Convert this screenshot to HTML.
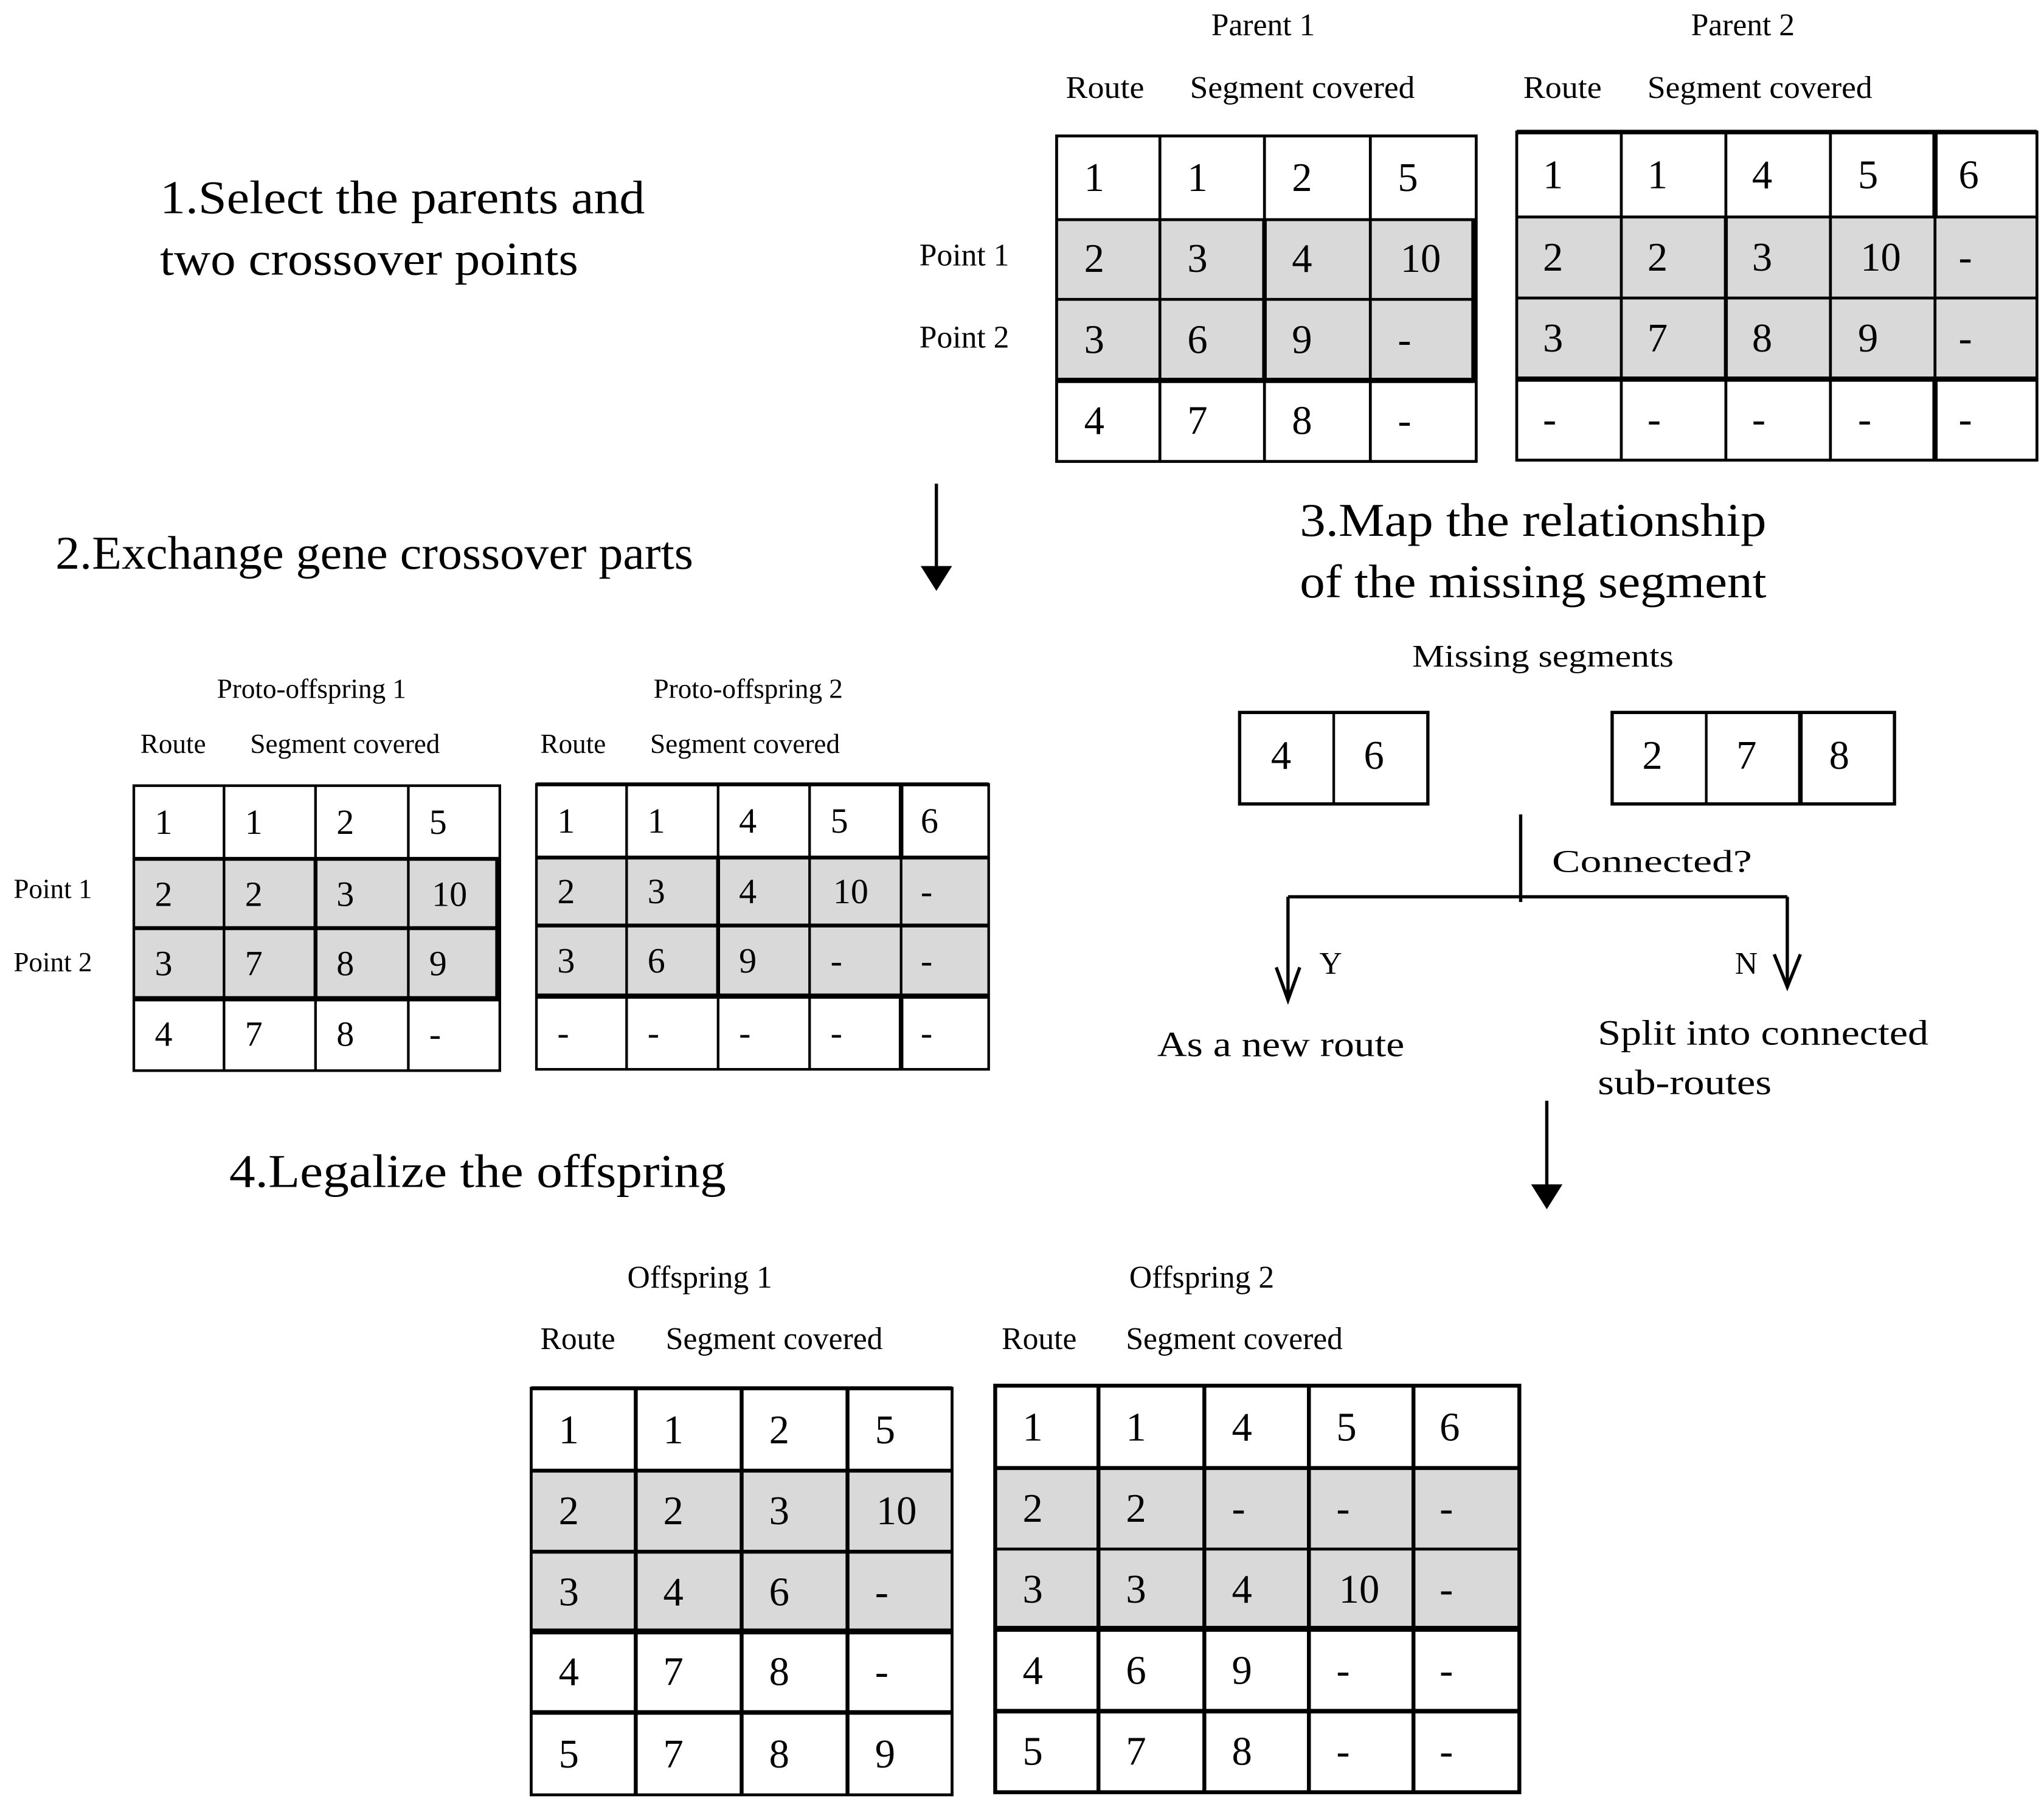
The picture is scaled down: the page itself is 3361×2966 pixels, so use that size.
<!DOCTYPE html>
<html><head><meta charset="utf-8"><style>
html,body{margin:0;padding:0;background:#fff;}
svg{display:block;}
text{font-family:"Liberation Serif",serif;fill:#000;}
.c{font-size:31px;}
.p{font-size:27px;}
.l{font-size:24px;}
.s{font-size:21px;}
.t{font-size:36px;}
</style></head><body>
<svg width="3361" height="2966" viewBox="0 0 1563 1380" xmlns="http://www.w3.org/2000/svg">
<rect width="1563" height="1380" fill="#fff"/>

<!-- ===== Titles ===== -->
<text class="t" x="122" y="163" textLength="371" lengthAdjust="spacingAndGlyphs">1.Select the parents and</text>
<text class="t" x="122" y="210" textLength="320" lengthAdjust="spacingAndGlyphs">two crossover points</text>
<text class="t" x="42" y="435" textLength="488" lengthAdjust="spacingAndGlyphs">2.Exchange gene crossover parts</text>
<text class="t" x="994" y="410" textLength="357" lengthAdjust="spacingAndGlyphs">3.Map the relationship</text>
<text class="t" x="994" y="457" textLength="357" lengthAdjust="spacingAndGlyphs">of the missing segment</text>
<text class="t" x="175" y="908" textLength="380" lengthAdjust="spacingAndGlyphs">4.Legalize the offspring</text>

<!-- ===== Parent 1 ===== -->
<text class="l" x="966" y="27" text-anchor="middle">Parent 1</text>
<text class="l" x="815" y="75" textLength="60" lengthAdjust="spacingAndGlyphs">Route</text>
<text class="l" x="910" y="75" textLength="172" lengthAdjust="spacingAndGlyphs">Segment covered</text>
<text class="l" x="703" y="203">Point 1</text>
<text class="l" x="703" y="266">Point 2</text>
<rect x="808" y="168" width="321" height="123" fill="#d9d9d9"/>
<g stroke="#000" stroke-width="2.2" fill="none">
<rect x="808" y="104" width="321" height="249"/>
<line x1="808" y1="168" x2="1129" y2="168"/>
<line x1="808" y1="229" x2="1129" y2="229"/>
<line x1="808" y1="291" x2="1129" y2="291" stroke-width="4"/>
<line x1="887" y1="104" x2="887" y2="353"/>
<line x1="967" y1="104" x2="967" y2="353"/>
<line x1="1048" y1="104" x2="1048" y2="353"/>
<line x1="967" y1="168" x2="967" y2="291" stroke-width="3.5"/>
<line x1="1127" y1="168" x2="1127" y2="291" stroke-width="3.5"/>
</g>
<g class="c">
<text x="829" y="146">1</text><text x="908" y="146">1</text><text x="988" y="146">2</text><text x="1069" y="146">5</text>
<text x="829" y="208">2</text><text x="908" y="208">3</text><text x="988" y="208">4</text><text x="1071" y="208">10</text>
<text x="829" y="270">3</text><text x="908" y="270">6</text><text x="988" y="270">9</text><text x="1069" y="270">-</text>
<text x="829" y="332">4</text><text x="908" y="332">7</text><text x="988" y="332">8</text><text x="1069" y="332">-</text>
</g>

<!-- ===== Parent 2 ===== -->
<text class="l" x="1333" y="27" text-anchor="middle">Parent 2</text>
<text class="l" x="1165" y="75" textLength="60" lengthAdjust="spacingAndGlyphs">Route</text>
<text class="l" x="1260" y="75" textLength="172" lengthAdjust="spacingAndGlyphs">Segment covered</text>
<rect x="1160" y="166" width="398" height="124" fill="#d9d9d9"/>
<g stroke="#000" stroke-width="2.2" fill="none">
<rect x="1160" y="101" width="398" height="251"/>
<line x1="1160" y1="101" x2="1558" y2="101" stroke-width="3.5"/>
<line x1="1160" y1="166" x2="1558" y2="166"/>
<line x1="1160" y1="228" x2="1558" y2="228"/>
<line x1="1160" y1="290" x2="1558" y2="290" stroke-width="4"/>
<line x1="1240" y1="101" x2="1240" y2="352"/>
<line x1="1320" y1="101" x2="1320" y2="352"/>
<line x1="1400" y1="101" x2="1400" y2="352"/>
<line x1="1480" y1="101" x2="1480" y2="352"/>
<line x1="1480" y1="101" x2="1480" y2="166" stroke-width="4"/>
<line x1="1480" y1="290" x2="1480" y2="352" stroke-width="4"/>
<line x1="1320" y1="166" x2="1320" y2="290" stroke-width="3"/>
</g>
<g class="c">
<text x="1180" y="144">1</text><text x="1260" y="144">1</text><text x="1340" y="144">4</text><text x="1421" y="144">5</text><text x="1498" y="144">6</text>
<text x="1180" y="207">2</text><text x="1260" y="207">2</text><text x="1340" y="207">3</text><text x="1423" y="207">10</text><text x="1498" y="207">-</text>
<text x="1180" y="269">3</text><text x="1260" y="269">7</text><text x="1340" y="269">8</text><text x="1421" y="269">9</text><text x="1498" y="269">-</text>
<text x="1180" y="331">-</text><text x="1260" y="331">-</text><text x="1340" y="331">-</text><text x="1421" y="331">-</text><text x="1498" y="331">-</text>
</g>

<!-- arrow 1 -->
<line x1="716" y1="370" x2="716" y2="436" stroke="#000" stroke-width="2.5"/>
<polygon points="704,433 728,433 716,452" fill="#000"/>

<!-- ===== Proto-offspring 1 ===== -->
<text class="s" x="238" y="534" text-anchor="middle">Proto-offspring 1</text>
<text class="s" x="107" y="576">Route</text>
<text class="s" x="191" y="576">Segment covered</text>
<text class="s" x="10" y="687">Point 1</text>
<text class="s" x="10" y="743">Point 2</text>
<rect x="102" y="657" width="280" height="107" fill="#d9d9d9"/>
<g stroke="#000" stroke-width="2" fill="none">
<rect x="102" y="601" width="280" height="218"/>
<line x1="102" y1="657" x2="382" y2="657" stroke-width="3"/>
<line x1="102" y1="710" x2="382" y2="710" stroke-width="3"/>
<line x1="102" y1="764" x2="382" y2="764" stroke-width="4"/>
<line x1="171" y1="601" x2="171" y2="819"/>
<line x1="241" y1="601" x2="241" y2="819"/>
<line x1="312" y1="601" x2="312" y2="819"/>
<line x1="241" y1="657" x2="241" y2="764" stroke-width="3"/>
<line x1="380" y1="657" x2="380" y2="764" stroke-width="3"/>
</g>
<g class="p">
<text x="118" y="638">1</text><text x="187" y="638">1</text><text x="257" y="638">2</text><text x="328" y="638">5</text>
<text x="118" y="693">2</text><text x="187" y="693">2</text><text x="257" y="693">3</text><text x="330" y="693">10</text>
<text x="118" y="746">3</text><text x="187" y="746">7</text><text x="257" y="746">8</text><text x="328" y="746">9</text>
<text x="118" y="800">4</text><text x="187" y="800">7</text><text x="257" y="800">8</text><text x="328" y="800">-</text>
</g>

<!-- ===== Proto-offspring 2 ===== -->
<text class="s" x="572" y="534" text-anchor="middle">Proto-offspring 2</text>
<text class="s" x="413" y="576">Route</text>
<text class="s" x="497" y="576">Segment covered</text>
<rect x="410" y="656" width="346" height="106" fill="#d9d9d9"/>
<g stroke="#000" stroke-width="2" fill="none">
<rect x="410" y="600" width="346" height="218"/>
<line x1="410" y1="600" x2="756" y2="600" stroke-width="3"/>
<line x1="410" y1="656" x2="756" y2="656" stroke-width="3"/>
<line x1="410" y1="708" x2="756" y2="708" stroke-width="3"/>
<line x1="410" y1="762" x2="756" y2="762" stroke-width="4"/>
<line x1="479" y1="600" x2="479" y2="818"/>
<line x1="549" y1="600" x2="549" y2="818"/>
<line x1="619" y1="600" x2="619" y2="818"/>
<line x1="689" y1="600" x2="689" y2="818"/>
<line x1="689" y1="600" x2="689" y2="656" stroke-width="3.5"/>
<line x1="689" y1="762" x2="689" y2="818" stroke-width="3.5"/>
<line x1="549" y1="656" x2="549" y2="762" stroke-width="3"/>
</g>
<g class="p">
<text x="426" y="637">1</text><text x="495" y="637">1</text><text x="565" y="637">4</text><text x="635" y="637">5</text><text x="704" y="637">6</text>
<text x="426" y="691">2</text><text x="495" y="691">3</text><text x="565" y="691">4</text><text x="637" y="691">10</text><text x="704" y="691">-</text>
<text x="426" y="744">3</text><text x="495" y="744">6</text><text x="565" y="744">9</text><text x="635" y="744">-</text><text x="704" y="744">-</text>
<text x="426" y="799">-</text><text x="495" y="799">-</text><text x="565" y="799">-</text><text x="635" y="799">-</text><text x="704" y="799">-</text>
</g>

<!-- ===== Step 3 ===== -->
<text class="l" x="1180" y="510" text-anchor="middle" textLength="200" lengthAdjust="spacingAndGlyphs">Missing segments</text>
<g stroke="#000" stroke-width="2.5" fill="none">
<rect x="948" y="545" width="144" height="70"/>
<line x1="1020" y1="545" x2="1020" y2="615" stroke-width="2"/>
<rect x="1233" y="545" width="216" height="70"/>
<line x1="1305" y1="545" x2="1305" y2="615" stroke-width="2"/>
<line x1="1377" y1="545" x2="1377" y2="615" stroke-width="3.5"/>
</g>
<g class="c">
<text x="972" y="588">4</text><text x="1043" y="588">6</text>
<text x="1256" y="588">2</text><text x="1328" y="588">7</text><text x="1399" y="588">8</text>
</g>
<g stroke="#000" stroke-width="2.5" fill="none">
<line x1="1163" y1="623" x2="1163" y2="690"/>
<line x1="985" y1="686" x2="1367" y2="686"/>
<line x1="985" y1="686" x2="985" y2="765"/>
<line x1="1367" y1="686" x2="1367" y2="755"/>
<polyline points="976,740 985,765 994,740"/>
<polyline points="1357,730 1367,755 1377,730"/>
</g>
<text class="l" x="1187" y="667" textLength="153" lengthAdjust="spacingAndGlyphs">Connected?</text>
<text class="l" x="1009" y="745">Y</text>
<text class="l" x="1327" y="745">N</text>
<text class="l" x="885" y="808" textLength="189" lengthAdjust="spacingAndGlyphs" style="font-size:27px">As a new route</text>
<text class="l" x="1222" y="799" textLength="253" lengthAdjust="spacingAndGlyphs" style="font-size:27px">Split into connected</text>
<text class="l" x="1222" y="837" textLength="133" lengthAdjust="spacingAndGlyphs" style="font-size:27px">sub-routes</text>

<!-- arrow 2 -->
<line x1="1183" y1="842" x2="1183" y2="908" stroke="#000" stroke-width="2.5"/>
<polygon points="1171,906 1195,906 1183,925" fill="#000"/>

<!-- ===== Offspring 1 ===== -->
<text class="l" x="535" y="985" text-anchor="middle">Offspring 1</text>
<text class="l" x="413" y="1032">Route</text>
<text class="l" x="509" y="1032">Segment covered</text>
<rect x="406" y="1125" width="322" height="123" fill="#d9d9d9"/>
<g stroke="#000" stroke-width="2.2" fill="none">
<rect x="406" y="1062" width="322" height="311"/>
<line x1="406" y1="1062" x2="728" y2="1062" stroke-width="3"/>
<line x1="406" y1="1125" x2="728" y2="1125" stroke-width="3"/>
<line x1="406" y1="1187" x2="728" y2="1187" stroke-width="3"/>
<line x1="406" y1="1248" x2="728" y2="1248" stroke-width="4.5"/>
<line x1="406" y1="1310" x2="728" y2="1310" stroke-width="3.5"/>
<line x1="486" y1="1062" x2="486" y2="1373" stroke-width="3"/>
<line x1="567" y1="1062" x2="567" y2="1373" stroke-width="3"/>
<line x1="648" y1="1062" x2="648" y2="1373" stroke-width="3"/>
</g>
<g class="c">
<text x="427" y="1104">1</text><text x="507" y="1104">1</text><text x="588" y="1104">2</text><text x="669" y="1104">5</text>
<text x="427" y="1166">2</text><text x="507" y="1166">2</text><text x="588" y="1166">3</text><text x="670" y="1166">10</text>
<text x="427" y="1228">3</text><text x="507" y="1228">4</text><text x="588" y="1228">6</text><text x="669" y="1228">-</text>
<text x="427" y="1289">4</text><text x="507" y="1289">7</text><text x="588" y="1289">8</text><text x="669" y="1289">-</text>
<text x="427" y="1352">5</text><text x="507" y="1352">7</text><text x="588" y="1352">8</text><text x="669" y="1352">9</text>
</g>

<!-- ===== Offspring 2 ===== -->
<text class="l" x="919" y="985" text-anchor="middle">Offspring 2</text>
<text class="l" x="766" y="1032">Route</text>
<text class="l" x="861" y="1032">Segment covered</text>
<rect x="761" y="1123" width="401" height="123" fill="#d9d9d9"/>
<g stroke="#000" stroke-width="2.2" fill="none">
<rect x="761" y="1060" width="401" height="311" stroke-width="3"/>
<line x1="761" y1="1123" x2="1162" y2="1123" stroke-width="3"/>
<line x1="761" y1="1185" x2="1162" y2="1185"/>
<line x1="761" y1="1246" x2="1162" y2="1246" stroke-width="4.5"/>
<line x1="761" y1="1309" x2="1162" y2="1309" stroke-width="3.5"/>
<line x1="840" y1="1060" x2="840" y2="1371" stroke-width="3"/>
<line x1="921" y1="1060" x2="921" y2="1371" stroke-width="3"/>
<line x1="1001" y1="1060" x2="1001" y2="1371" stroke-width="3"/>
<line x1="1081" y1="1060" x2="1081" y2="1371" stroke-width="3"/>
</g>
<g class="c">
<text x="782" y="1102">1</text><text x="861" y="1102">1</text><text x="942" y="1102">4</text><text x="1022" y="1102">5</text><text x="1101" y="1102">6</text>
<text x="782" y="1164">2</text><text x="861" y="1164">2</text><text x="942" y="1164">-</text><text x="1022" y="1164">-</text><text x="1101" y="1164">-</text>
<text x="782" y="1226">3</text><text x="861" y="1226">3</text><text x="942" y="1226">4</text><text x="1024" y="1226">10</text><text x="1101" y="1226">-</text>
<text x="782" y="1288">4</text><text x="861" y="1288">6</text><text x="942" y="1288">9</text><text x="1022" y="1288">-</text><text x="1101" y="1288">-</text>
<text x="782" y="1350">5</text><text x="861" y="1350">7</text><text x="942" y="1350">8</text><text x="1022" y="1350">-</text><text x="1101" y="1350">-</text>
</g>
</svg>
</body></html>
